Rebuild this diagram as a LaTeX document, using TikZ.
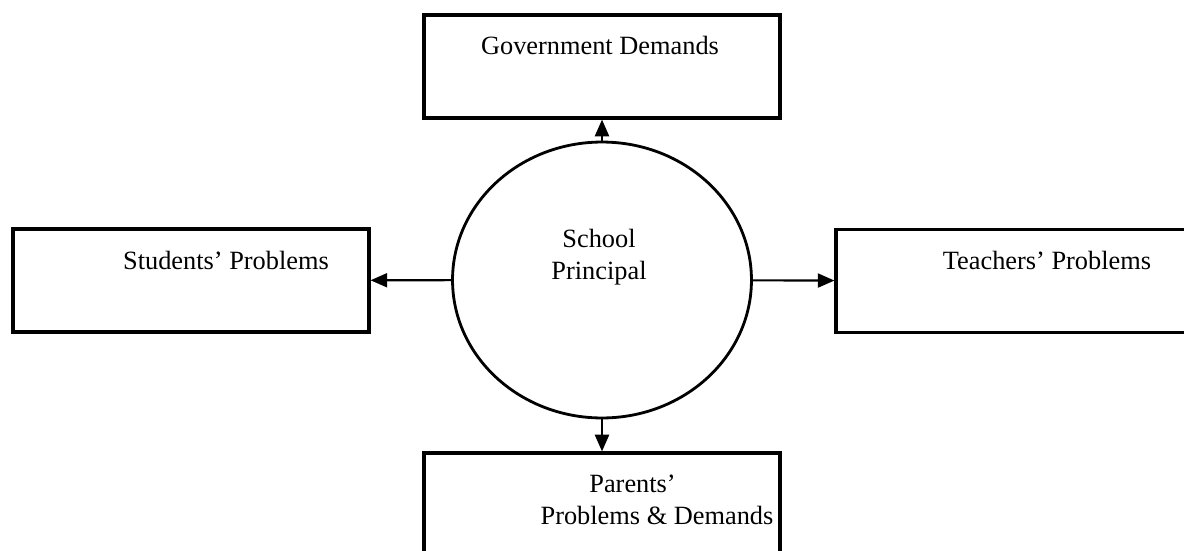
\documentclass[tikz,border=0pt]{standalone}
\usepackage{fontspec}
\setmainfont{Liberation Serif}
\usetikzlibrary{shapes.geometric, arrows.meta, positioning}

\begin{document}
\begin{tikzpicture}[
    x=0.02cm, y=-0.02cm,
    font=\fontsize{15}{18.5}\selectfont,
    box/.style={draw, rectangle, line width=1.8pt, minimum width=7.12cm, minimum height=2.06cm, inner sep=0pt},
    hub/.style={draw, ellipse, line width=1.6pt, minimum width=5.98cm, minimum height=5.52cm, inner sep=0pt},
    lbl/.style={inner sep=0pt},
    arr/.style={-{Triangle[length=9.5pt, width=8pt]}, line width=1.2pt}
]
    \useasboundingbox (0,0) rectangle (1184,551);
    \clip (0,0) rectangle (1184,551);

    % School Principal
    \node[hub] (principal) at (602, 280) {};
    \node[lbl, align=center] (principaltxt) at (599, 257) {School\\Principal};

    % Government Demands
    \node[box] (gov) at (602, 66.5) {};
    \node[lbl] (govtxt) at (600, 45) {Government Demands};

    % Students' Problems
    \node[box] (students) at (191, 280.5) {};
    \node[lbl] (studentstxt) at (226, 260) {Students’ Problems};

    % Teachers' Problems
    \node[box] (teachers) at (1014, 281) {};
    \node[lbl] (teacherstxt) at (1047, 260) {Teachers’ Problems};

    % Parents' Problems & Demands
    \node[box] (parents) at (602, 504.5) {};
    \node[lbl, align=left] (parentstxt) at (657, 500) {\hspace*{1.85em}Parents’\\Problems \& Demands};

    % Arrows
    \draw[arr] (principal) -- (gov);
    \draw[arr] (principal) -- (students);
    \draw[arr] (principal) -- (teachers);
    \draw[arr] (principal) -- (parents);

\end{tikzpicture}
\end{document}
